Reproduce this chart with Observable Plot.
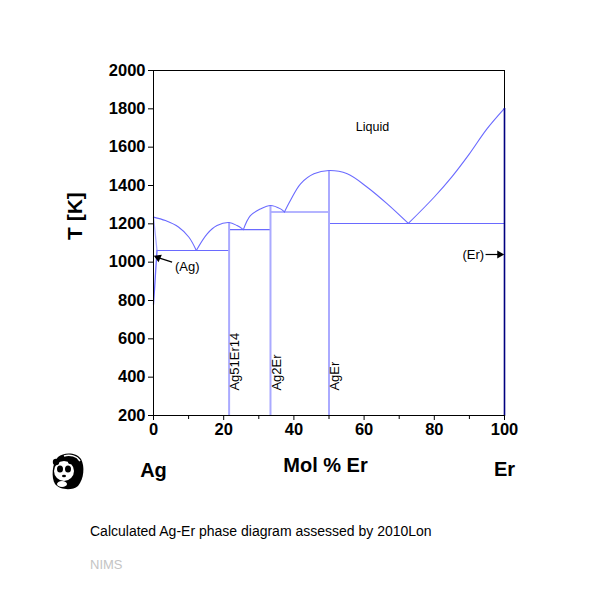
<!DOCTYPE html>
<html>
<head>
<meta charset="utf-8">
<script src="https://cdn.jsdelivr.net/npm/d3@7"></script>
<script src="https://cdn.jsdelivr.net/npm/@observablehq/plot@0.6"></script>
<style>
  body { margin: 0; background: #fff; font-family: "Liberation Sans", Arial, sans-serif; }
  #wrap { position: relative; width: 612px; height: 599px; }
  #caption { position: absolute; left: 90px; top: 523px; font-size: 14px; color: #000; }
  #nims { position: absolute; left: 90px; top: 557px; font-size: 13px; color: #c4c4c4; }
  #panda { position: absolute; left: 50px; top: 451px; }
</style>
</head>
<body>
<div id="wrap">
  <div id="chart"></div>
  <svg id="panda" width="36" height="40" viewBox="0 0 36 40">
    <path d="M8 6 C14 1 26 1 31 8 C35 15 34 28 28 35 C22 40 10 39 5 33 C1 27 2 12 8 6 Z" fill="#000"/>
    <path d="M14 5 C20 3 27 5 30 10" stroke="#fff" stroke-width="1.5" fill="none"/>
    <ellipse cx="14" cy="20" rx="10" ry="10" fill="#fff"/>
    <ellipse cx="10" cy="18" rx="3" ry="3.5" fill="#000"/>
    <ellipse cx="18" cy="18" rx="3" ry="3.5" fill="#000"/>
    <ellipse cx="14" cy="25" rx="2" ry="1.3" fill="#000"/>
    <circle cx="6" cy="11" r="3.2" fill="#000"/>
    <circle cx="21" cy="10" r="3.2" fill="#000"/>
    <ellipse cx="12" cy="33" rx="5" ry="3" fill="#fff"/>
  </svg>
  <div id="caption">Calculated Ag-Er phase diagram assessed by 2010Lon</div>
  <div id="nims">NIMS</div>
</div>
<script>
// Liquidus branches [mol% Er, T (K)]
const liqAg       = [[0,1235],[3.4,1217],[7.2,1182],[10.1,1130],[12.2,1061]];
const liqAg51Er14 = [[12.2,1061],[15.3,1148],[18.1,1191],[21.54,1207],[23.8,1191],[25.6,1170]];
const liqAg2Er    = [[25.6,1170],[27.6,1243],[30.5,1278],[33.33,1296],[36.2,1278],[37.3,1262]];
const liqAgEr     = [[37.3,1262],[39,1322],[41.9,1409],[45.7,1461],[50,1478],[55.2,1461],[60.9,1391],[66.6,1304],[72.6,1202]];
const liqEr       = [[72.6,1202],[80,1340],[85,1445],[90,1565],[95,1695],[100,1802]];
// (Ag) solid solution boundaries
const solidusAg = [[0,1235],[1.0,1061]];
const solvusAg  = [[1.0,1061],[0.6,950],[0.3,860],[0,780]];
// (Er) boundary
const solidusEr = [[100,1802],[100,200]];
// Compounds: name, composition, melting T
const compNames = ["Ag51Er14","Ag2Er","AgEr"];
const compX     = [21.54, 33.33, 50];
const compTop   = [1207, 1296, 1478];
// Invariant horizontals: T, from x, to x
const invT  = [1061, 1170, 1262, 1202];
const invX1 = [1.0, 21.54, 33.33, 50];
const invX2 = [21.54, 33.33, 50, 100];
// Ticks
const xTicks = [0,20,40,60,80,100];
const xMinor = [10,30,50,70,90];
const yTicks = [200,400,600,800,1000,1200,1400,1600,1800,2000];

const toRows = (arr, id) => arr.map(([x,y]) => ({x, y, id}));
const liquidus = [
  ...toRows(liqAg,"a"), ...toRows(liqAg51Er14,"b"), ...toRows(liqAg2Er,"c"),
  ...toRows(liqAgEr,"d"), ...toRows(liqEr,"e")
];
const solvusRows = [...toRows(solidusAg,"s"), ...toRows(solvusAg,"v")];
const comps = compNames.map((name,i) => ({name, x: compX[i], top: compTop[i]}));
const invs = invT.map((T,i) => ({T, x1: invX1[i], x2: invX2[i]}));

// arrow annotations (tail -> head) in data coordinates
const agArrow = [{x1: 5.3, y1: 1000, x2: 1.3, y2: 1024}];
const erArrow = [{x1: 94.6, y1: 1040, x2: 98.6, y2: 1040}];

const blue = "#6a6aff";
const light = "#aaaaff";

const chart = Plot.plot({
  width: 612,
  height: 500,
  marginLeft: 153,
  marginRight: 108,
  marginTop: 70,
  marginBottom: 85,
  style: {fontFamily: "Liberation Sans, Arial, sans-serif", background: "#fff", color: "#000", overflow: "visible"},
  x: {domain: [0,100]},
  y: {domain: [200,2000]},
  marks: [
    Plot.link(invs, {x1: "x1", x2: "x2", y1: "T", y2: "T", stroke: blue, strokeWidth: 1.1}),
    Plot.link(comps, {x1: "x", x2: "x", y1: 200, y2: "top", stroke: light, strokeWidth: 2}),
    Plot.line(solvusRows, {x: "x", y: "y", z: "id", stroke: d => d.id === "s" ? light : blue, strokeWidth: 1.3}),
    Plot.line(liquidus, {x: "x", y: "y", z: "id", stroke: blue, strokeWidth: 1.1, curve: "catmull-rom"}),
    Plot.ruleY([2000], {stroke: "#000", strokeWidth: 1}),
    Plot.ruleX([100], {stroke: "#000", strokeWidth: 1}),
    Plot.line(solidusEr, {x: d => d[0], y: d => d[1], stroke: "#000080", strokeWidth: 1.6}),
    Plot.ruleX([0], {stroke: "#000", strokeWidth: 1}),
    Plot.ruleY([200], {stroke: "#000", strokeWidth: 1}),
    Plot.axisX({ticks: xTicks, tickSize: 5, tickPadding: 3, fontSize: 16.5, fontWeight: "bold", label: null, tickFormat: "d"}),
    Plot.axisX({ticks: xMinor, tickSize: 4, text: null, label: null}),
    Plot.axisY({ticks: yTicks, tickSize: 5, tickPadding: 3, fontSize: 16.5, fontWeight: "bold", label: null, tickFormat: "d"}),
    Plot.text(["Liquid"], {x: 62.4, y: 1703, fontSize: 12.5, fill: "#000"}),
    Plot.text(comps, {x: "x", y: 330, text: "name", rotate: -90, textAnchor: "start", dx: 6, fontSize: 13, fill: "#000"}),
    Plot.text(["(Ag)"], {x: 9.6, y: 977, fontSize: 13, fill: "#000"}),
    Plot.link(agArrow, {x1: "x1", y1: "y1", x2: "x2", y2: "y2", stroke: "#000", strokeWidth: 1.2}),
    Plot.dot(agArrow, {x: "x2", y: "y2", symbol: "triangle", r: 3, rotate: -66, fill: "#000", stroke: "none"}),
    Plot.text(["(Er)"], {x: 91.1, y: 1040, fontSize: 13, fill: "#000"}),
    Plot.link(erArrow, {x1: "x1", y1: "y1", x2: "x2", y2: "y2", stroke: "#000", strokeWidth: 1.2}),
    Plot.dot(erArrow, {x: "x2", y: "y2", symbol: "triangle", r: 3, rotate: 90, fill: "#000", stroke: "none"}),
    Plot.text(["T [K]"], {frameAnchor: "left", dx: -78, dy: -3, rotate: -90, fontSize: 21, fontWeight: "bold", fill: "#000"}),
    Plot.text(["Mol % Er"], {x: 49, frameAnchor: "bottom", dy: 56, fontSize: 20, fontWeight: "bold", fill: "#000"}),
    Plot.text(["Ag"], {x: 0, frameAnchor: "bottom", dy: 61, fontSize: 20, fontWeight: "bold", fill: "#000"}),
    Plot.text(["Er"], {x: 100, frameAnchor: "bottom", dy: 60, fontSize: 20, fontWeight: "bold", fill: "#000"})
  ]
});
document.getElementById("chart").appendChild(chart);
</script>
</body>
</html>
